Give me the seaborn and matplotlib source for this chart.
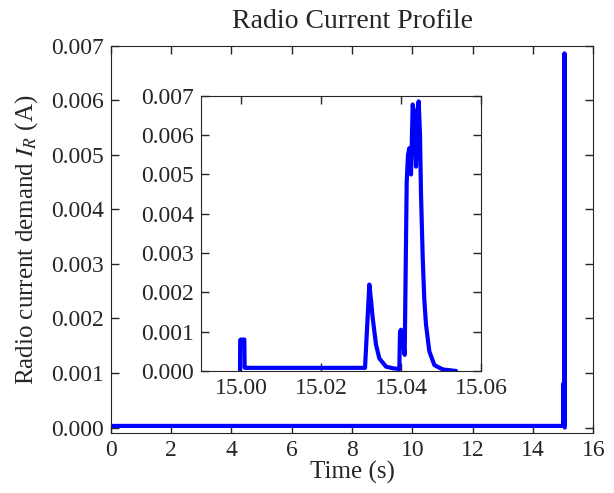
import matplotlib
matplotlib.use("Agg")
import matplotlib.pyplot as plt
import numpy as np
import seaborn as sns
from matplotlib.ticker import FormatStrFormatter, MultipleLocator

# Idle baseline before the radio burst
base_t = [0.0, 4.0, 8.0, 12.0, 14.9997]
base_i = [0.00003, 0.00003, 0.00003, 0.00003, 0.00003]

# Radio burst around t = 15 s
burst_t = [14.99975, 14.99980, 15.00000, 15.00083, 15.00090, 15.00100,
           15.03100, 15.03208, 15.03250, 15.03292, 15.03375, 15.03458,
           15.03625, 15.03792, 15.03958, 15.03975, 15.04000, 15.04042,
           15.04092, 15.04142, 15.04175, 15.04208, 15.04250, 15.04292,
           15.04333, 15.04375, 15.04417, 15.04442, 15.04475, 15.04500,
           15.04542, 15.04583, 15.04625, 15.04708, 15.04833, 15.05042,
           15.05375]
burst_i = [0.00003, 0.00079, 0.00080, 0.00080, 0.00009, 0.00008,
           0.00008, 0.00220, 0.00180, 0.00135, 0.00067, 0.00032,
           0.00011, 0.00007, 0.00005, 0.00100, 0.00105, 0.00080,
           0.00041, 0.00480, 0.00550, 0.00567, 0.00500, 0.00678,
           0.00650, 0.00520, 0.00665, 0.00686, 0.00600, 0.00450,
           0.00290, 0.00180, 0.00118, 0.00050, 0.00015, 0.00004,
           0.00000]

sns.set_style("ticks", {
    "xtick.direction": "in",
    "ytick.direction": "in",
    "xtick.top": True,
    "ytick.right": True,
    "axes.linewidth": 1.0,
})
plt.rcParams["font.family"] = ["Liberation Serif", "DejaVu Serif"]
plt.rcParams["mathtext.fontset"] = "stix"

t_all = np.array(base_t + burst_t)
i_all = np.array(base_i + burst_i)

fig = plt.figure(figsize=(6.14, 4.93), dpi=100)
ax = fig.add_axes([0.1803, 0.1217, 0.786, 0.7856])
sns.lineplot(x=t_all, y=i_all, ax=ax, color="#0000ff", linewidth=3,
             sort=False, estimator=None)
ax.set_xlim(0, 16)
ax.set_ylim(-0.0001, 0.007)
ax.xaxis.set_major_locator(MultipleLocator(2))
ax.yaxis.set_major_locator(MultipleLocator(0.001))
ax.yaxis.set_major_formatter(FormatStrFormatter("%.3f"))
ax.set_title("Radio Current Profile", fontsize=20, pad=13)
ax.set_xlabel("Time (s)", fontsize=18, labelpad=0)
ax.set_ylabel("Radio current demand $I_R$ (A)", fontsize=18, labelpad=8)
ax.tick_params(labelsize=17, length=6, width=1, pad=5)

# Zoomed inset on the burst
ins = fig.add_axes([0.3274, 0.2475, 0.456, 0.558])
sns.lineplot(x=np.array(burst_t), y=np.array(burst_i), ax=ins,
             color="#0000ff", linewidth=3, sort=False, estimator=None)
ins.set_xlim(14.99, 15.06)
ins.set_ylim(0, 0.007)
ins.xaxis.set_major_locator(MultipleLocator(0.02))
ins.yaxis.set_major_locator(MultipleLocator(0.001))
ins.xaxis.set_major_formatter(FormatStrFormatter("%.2f"))
ins.yaxis.set_major_formatter(FormatStrFormatter("%.3f"))
ins.tick_params(labelsize=17, length=6, width=1, pad=5)

fig.savefig("out.png", dpi=100)
plt.close(fig)
